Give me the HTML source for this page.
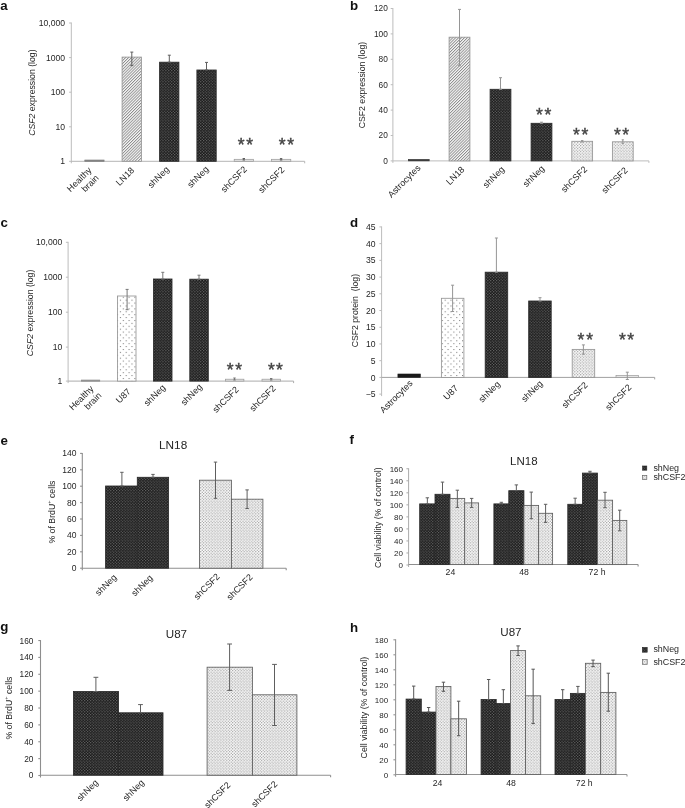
<!DOCTYPE html>
<html><head><meta charset="utf-8"><style>
html,body{margin:0;padding:0;background:#fff;}
body{width:685px;height:808px;overflow:hidden;}
svg{display:block;filter:blur(0.4px);font-family:"Liberation Sans",sans-serif;}
</style></head><body>
<svg width="685" height="808" viewBox="0 0 685 808">
<defs>
<pattern id="hatch" patternUnits="userSpaceOnUse" width="2.05" height="2.05" patternTransform="rotate(45)">
<rect width="2.05" height="2.05" fill="#f8f8f8"/><rect x="0" width="0.88" height="2.05" fill="#8a8a8a"/></pattern>
<pattern id="dark" patternUnits="userSpaceOnUse" width="2.9" height="2.8">
<rect width="2.9" height="2.8" fill="#141414"/><rect x="0.2" y="0.2" width="1.05" height="1.0" fill="#969696"/><rect x="1.65" y="1.6" width="1.05" height="1.0" fill="#848484"/></pattern>
<pattern id="light" patternUnits="userSpaceOnUse" width="2.9" height="2.9">
<rect width="2.9" height="2.9" fill="#ffffff"/><rect x="0.2" y="0.2" width="1.0" height="1.0" fill="#6c6c6c"/><rect x="1.65" y="1.65" width="1.0" height="1.0" fill="#7e7e7e"/></pattern>
<pattern id="light2" patternUnits="userSpaceOnUse" width="2.9" height="2.9">
<rect width="2.9" height="2.9" fill="#ffffff"/><rect x="0.2" y="0.2" width="1.0" height="1.0" fill="#6c6c6c"/><rect x="1.65" y="1.65" width="1.0" height="1.0" fill="#747474"/></pattern>
<pattern id="sparse" patternUnits="userSpaceOnUse" width="5.8" height="5.8">
<rect width="5.8" height="5.8" fill="#fff"/><rect x="1" y="1" width="1" height="1" fill="#707070"/><rect x="3.9" y="3.9" width="1" height="1" fill="#707070"/></pattern>
</defs>
<rect width="685" height="808" fill="#fff"/>

<text x="0.30" y="9.50" font-size="13.3" text-anchor="start" fill="#111" font-weight="bold">a</text>
<line x1="71.30" y1="22.50" x2="71.30" y2="163.30" stroke="#bcbcbc" stroke-width="1"/>
<line x1="69.10" y1="23.00" x2="71.30" y2="23.00" stroke="#bcbcbc" stroke-width="1"/>
<text x="65.00" y="26.10" font-size="8.6" text-anchor="end" fill="#262626">10,000</text>
<line x1="69.10" y1="57.60" x2="71.30" y2="57.60" stroke="#bcbcbc" stroke-width="1"/>
<text x="65.00" y="60.70" font-size="8.6" text-anchor="end" fill="#262626">1000</text>
<line x1="69.10" y1="92.20" x2="71.30" y2="92.20" stroke="#bcbcbc" stroke-width="1"/>
<text x="65.00" y="95.30" font-size="8.6" text-anchor="end" fill="#262626">100</text>
<line x1="69.10" y1="126.80" x2="71.30" y2="126.80" stroke="#bcbcbc" stroke-width="1"/>
<text x="65.00" y="129.90" font-size="8.6" text-anchor="end" fill="#262626">10</text>
<line x1="69.10" y1="161.30" x2="71.30" y2="161.30" stroke="#bcbcbc" stroke-width="1"/>
<text x="65.00" y="164.40" font-size="8.6" text-anchor="end" fill="#262626">1</text>
<line x1="71.30" y1="161.30" x2="304.70" y2="161.30" stroke="#b4b4b4" stroke-width="1"/>
<line x1="304.70" y1="161.30" x2="304.70" y2="163.30" stroke="#b4b4b4" stroke-width="1"/>
<text x="0" y="0" font-size="8.7" fill="#262626" text-anchor="middle" transform="translate(35.20 92.65) rotate(-90)"><tspan font-style="italic">CSF2</tspan> expression (log)</text>
<rect x="84.80" y="160.00" width="19.30" height="1.30" fill="#888" stroke="#777" stroke-width="0.6"/>
<rect x="122.10" y="57.10" width="19.30" height="104.20" fill="url(#hatch)" stroke="#959595" stroke-width="0.85"/>
<rect x="159.60" y="62.20" width="19.30" height="99.10" fill="url(#dark)" stroke="#2a2a2a" stroke-width="0.85"/>
<rect x="196.90" y="70.00" width="19.30" height="91.30" fill="url(#dark)" stroke="#2a2a2a" stroke-width="0.85"/>
<rect x="234.20" y="159.30" width="19.30" height="2.00" fill="#e0e0e0" stroke="#999" stroke-width="0.7"/>
<rect x="271.50" y="159.30" width="19.30" height="2.00" fill="#e0e0e0" stroke="#999" stroke-width="0.7"/>
<line x1="131.80" y1="52.10" x2="131.80" y2="65.60" stroke="#5e5e5e" stroke-width="1.0"/>
<line x1="130.30" y1="52.10" x2="133.30" y2="52.10" stroke="#5e5e5e" stroke-width="1.0"/>
<line x1="130.30" y1="65.60" x2="133.30" y2="65.60" stroke="#5e5e5e" stroke-width="1.0"/>
<line x1="169.30" y1="55.20" x2="169.30" y2="62.20" stroke="#5e5e5e" stroke-width="1.0"/>
<line x1="167.80" y1="55.20" x2="170.80" y2="55.20" stroke="#5e5e5e" stroke-width="1.0"/>
<line x1="167.80" y1="62.20" x2="170.80" y2="62.20" stroke="#5e5e5e" stroke-width="1.0"/>
<line x1="206.50" y1="62.40" x2="206.50" y2="70.00" stroke="#5e5e5e" stroke-width="1.0"/>
<line x1="205.00" y1="62.40" x2="208.00" y2="62.40" stroke="#5e5e5e" stroke-width="1.0"/>
<line x1="205.00" y1="70.00" x2="208.00" y2="70.00" stroke="#5e5e5e" stroke-width="1.0"/>
<line x1="243.80" y1="158.50" x2="243.80" y2="160.00" stroke="#5e5e5e" stroke-width="1.0"/>
<line x1="242.60" y1="158.50" x2="245.00" y2="158.50" stroke="#5e5e5e" stroke-width="1.0"/>
<line x1="242.60" y1="160.00" x2="245.00" y2="160.00" stroke="#5e5e5e" stroke-width="1.0"/>
<line x1="281.10" y1="158.60" x2="281.10" y2="160.00" stroke="#5e5e5e" stroke-width="1.0"/>
<line x1="279.90" y1="158.60" x2="282.30" y2="158.60" stroke="#5e5e5e" stroke-width="1.0"/>
<line x1="279.90" y1="160.00" x2="282.30" y2="160.00" stroke="#5e5e5e" stroke-width="1.0"/>
<text x="241.20" y="150.72" font-size="17.5" text-anchor="middle" fill="#444" stroke="#444" stroke-width="0.45">*</text>
<text x="249.60" y="150.72" font-size="17.5" text-anchor="middle" fill="#444" stroke="#444" stroke-width="0.45">*</text>
<text x="282.20" y="150.72" font-size="17.5" text-anchor="middle" fill="#444" stroke="#444" stroke-width="0.45">*</text>
<text x="290.60" y="150.72" font-size="17.5" text-anchor="middle" fill="#444" stroke="#444" stroke-width="0.45">*</text>
<text x="92.20" y="170.80" font-size="9.0" text-anchor="end" fill="#262626" transform="rotate(-45 92.20 170.80)">Healthy</text>
<text x="99.40" y="178.40" font-size="9.0" text-anchor="end" fill="#262626" transform="rotate(-45 99.40 178.40)">brain</text>
<text x="134.80" y="171.00" font-size="9.0" text-anchor="end" fill="#262626" transform="rotate(-45 134.80 171.00)">LN18</text>
<text x="169.80" y="170.00" font-size="9.0" text-anchor="end" fill="#262626" transform="rotate(-45 169.80 170.00)">shNeg</text>
<text x="209.30" y="169.80" font-size="9.0" text-anchor="end" fill="#262626" transform="rotate(-45 209.30 169.80)">shNeg</text>
<text x="247.50" y="169.90" font-size="9.0" text-anchor="end" fill="#262626" transform="rotate(-45 247.50 169.90)">shCSF2</text>
<text x="285.00" y="170.50" font-size="9.0" text-anchor="end" fill="#262626" transform="rotate(-45 285.00 170.50)">shCSF2</text>
<text x="349.90" y="10.40" font-size="13.3" text-anchor="start" fill="#111" font-weight="bold">b</text>
<line x1="392.90" y1="8.00" x2="392.90" y2="162.90" stroke="#bcbcbc" stroke-width="1"/>
<line x1="390.70" y1="160.90" x2="392.90" y2="160.90" stroke="#bcbcbc" stroke-width="1"/>
<text x="387.80" y="163.89" font-size="8.3" text-anchor="end" fill="#262626">0</text>
<line x1="390.70" y1="135.50" x2="392.90" y2="135.50" stroke="#bcbcbc" stroke-width="1"/>
<text x="387.80" y="138.49" font-size="8.3" text-anchor="end" fill="#262626">20</text>
<line x1="390.70" y1="110.10" x2="392.90" y2="110.10" stroke="#bcbcbc" stroke-width="1"/>
<text x="387.80" y="113.09" font-size="8.3" text-anchor="end" fill="#262626">40</text>
<line x1="390.70" y1="84.70" x2="392.90" y2="84.70" stroke="#bcbcbc" stroke-width="1"/>
<text x="387.80" y="87.69" font-size="8.3" text-anchor="end" fill="#262626">60</text>
<line x1="390.70" y1="59.30" x2="392.90" y2="59.30" stroke="#bcbcbc" stroke-width="1"/>
<text x="387.80" y="62.29" font-size="8.3" text-anchor="end" fill="#262626">80</text>
<line x1="390.70" y1="33.90" x2="392.90" y2="33.90" stroke="#bcbcbc" stroke-width="1"/>
<text x="387.80" y="36.89" font-size="8.3" text-anchor="end" fill="#262626">100</text>
<line x1="390.70" y1="8.50" x2="392.90" y2="8.50" stroke="#bcbcbc" stroke-width="1"/>
<text x="387.80" y="11.49" font-size="8.3" text-anchor="end" fill="#262626">120</text>
<line x1="392.90" y1="160.90" x2="648.90" y2="160.90" stroke="#bcbcbc" stroke-width="1"/>
<line x1="648.90" y1="160.90" x2="648.90" y2="162.90" stroke="#bcbcbc" stroke-width="1"/>
<text x="0" y="0" font-size="8.7" fill="#262626" text-anchor="middle" transform="translate(364.60 85.10) rotate(-90)">CSF2 expression (log)</text>
<rect x="408.40" y="159.40" width="20.80" height="1.50" fill="#333" stroke="#333" stroke-width="0.6"/>
<rect x="449.10" y="37.20" width="20.80" height="123.70" fill="url(#hatch)" stroke="#959595" stroke-width="0.85"/>
<rect x="490.10" y="89.30" width="20.80" height="71.60" fill="url(#dark)" stroke="#2a2a2a" stroke-width="0.85"/>
<rect x="531.10" y="123.30" width="20.80" height="37.60" fill="url(#dark)" stroke="#2a2a2a" stroke-width="0.85"/>
<rect x="571.80" y="141.30" width="20.80" height="19.60" fill="url(#light)" stroke="#959595" stroke-width="0.85"/>
<rect x="612.40" y="141.80" width="20.80" height="19.10" fill="url(#light)" stroke="#959595" stroke-width="0.85"/>
<line x1="459.50" y1="9.40" x2="459.50" y2="65.70" stroke="#959595" stroke-width="1.0"/>
<line x1="458.00" y1="9.40" x2="461.00" y2="9.40" stroke="#959595" stroke-width="1.0"/>
<line x1="458.00" y1="65.70" x2="461.00" y2="65.70" stroke="#959595" stroke-width="1.0"/>
<line x1="500.50" y1="77.70" x2="500.50" y2="89.30" stroke="#959595" stroke-width="1.0"/>
<line x1="499.00" y1="77.70" x2="502.00" y2="77.70" stroke="#959595" stroke-width="1.0"/>
<line x1="499.00" y1="89.30" x2="502.00" y2="89.30" stroke="#959595" stroke-width="1.0"/>
<line x1="541.50" y1="122.20" x2="541.50" y2="123.30" stroke="#959595" stroke-width="1.0"/>
<line x1="540.00" y1="122.20" x2="543.00" y2="122.20" stroke="#959595" stroke-width="1.0"/>
<line x1="540.00" y1="123.30" x2="543.00" y2="123.30" stroke="#959595" stroke-width="1.0"/>
<line x1="582.20" y1="140.60" x2="582.20" y2="142.00" stroke="#959595" stroke-width="1.0"/>
<line x1="581.00" y1="140.60" x2="583.40" y2="140.60" stroke="#959595" stroke-width="1.0"/>
<line x1="581.00" y1="142.00" x2="583.40" y2="142.00" stroke="#959595" stroke-width="1.0"/>
<line x1="622.80" y1="139.80" x2="622.80" y2="143.60" stroke="#959595" stroke-width="1.0"/>
<line x1="621.70" y1="139.80" x2="623.90" y2="139.80" stroke="#959595" stroke-width="1.0"/>
<line x1="621.70" y1="143.60" x2="623.90" y2="143.60" stroke="#959595" stroke-width="1.0"/>
<text x="539.35" y="120.78" font-size="17.5" text-anchor="middle" fill="#444" stroke="#444" stroke-width="0.45">*</text>
<text x="547.85" y="120.78" font-size="17.5" text-anchor="middle" fill="#444" stroke="#444" stroke-width="0.45">*</text>
<text x="576.40" y="140.78" font-size="17.5" text-anchor="middle" fill="#444" stroke="#444" stroke-width="0.45">*</text>
<text x="584.80" y="140.78" font-size="17.5" text-anchor="middle" fill="#444" stroke="#444" stroke-width="0.45">*</text>
<text x="617.40" y="140.78" font-size="17.5" text-anchor="middle" fill="#444" stroke="#444" stroke-width="0.45">*</text>
<text x="625.60" y="140.78" font-size="17.5" text-anchor="middle" fill="#444" stroke="#444" stroke-width="0.45">*</text>
<text x="421.10" y="168.60" font-size="9.0" text-anchor="end" fill="#262626" transform="rotate(-45 421.10 168.60)">Astrocytes</text>
<text x="465.00" y="170.20" font-size="9.0" text-anchor="end" fill="#262626" transform="rotate(-45 465.00 170.20)">LN18</text>
<text x="505.00" y="170.00" font-size="9.0" text-anchor="end" fill="#262626" transform="rotate(-45 505.00 170.00)">shNeg</text>
<text x="545.00" y="169.10" font-size="9.0" text-anchor="end" fill="#262626" transform="rotate(-45 545.00 169.10)">shNeg</text>
<text x="587.70" y="169.90" font-size="9.0" text-anchor="end" fill="#262626" transform="rotate(-45 587.70 169.90)">shCSF2</text>
<text x="628.20" y="171.00" font-size="9.0" text-anchor="end" fill="#262626" transform="rotate(-45 628.20 171.00)">shCSF2</text>
<text x="0.50" y="226.70" font-size="13.3" text-anchor="start" fill="#111" font-weight="bold">c</text>
<line x1="68.10" y1="241.80" x2="68.10" y2="383.10" stroke="#bcbcbc" stroke-width="1"/>
<line x1="65.90" y1="242.30" x2="68.10" y2="242.30" stroke="#bcbcbc" stroke-width="1"/>
<text x="62.30" y="245.40" font-size="8.6" text-anchor="end" fill="#262626">10,000</text>
<line x1="65.90" y1="277.20" x2="68.10" y2="277.20" stroke="#bcbcbc" stroke-width="1"/>
<text x="62.30" y="280.30" font-size="8.6" text-anchor="end" fill="#262626">1000</text>
<line x1="65.90" y1="312.20" x2="68.10" y2="312.20" stroke="#bcbcbc" stroke-width="1"/>
<text x="62.30" y="315.30" font-size="8.6" text-anchor="end" fill="#262626">100</text>
<line x1="65.90" y1="347.10" x2="68.10" y2="347.10" stroke="#bcbcbc" stroke-width="1"/>
<text x="62.30" y="350.20" font-size="8.6" text-anchor="end" fill="#262626">10</text>
<line x1="65.90" y1="381.10" x2="68.10" y2="381.10" stroke="#bcbcbc" stroke-width="1"/>
<text x="62.30" y="384.20" font-size="8.6" text-anchor="end" fill="#262626">1</text>
<line x1="68.10" y1="381.10" x2="293.60" y2="381.10" stroke="#acacac" stroke-width="1"/>
<line x1="293.60" y1="381.10" x2="293.60" y2="383.10" stroke="#acacac" stroke-width="1"/>
<text x="0" y="0" font-size="8.7" fill="#262626" text-anchor="middle" transform="translate(32.50 312.95) rotate(-90)"><tspan font-style="italic">CSF2</tspan> expression (log)</text>
<rect x="81.30" y="380.00" width="18.50" height="1.20" fill="#999" stroke="#888" stroke-width="0.6"/>
<rect x="117.50" y="296.00" width="18.50" height="85.10" fill="url(#sparse)" stroke="#959595" stroke-width="0.85"/>
<rect x="153.50" y="279.00" width="18.50" height="102.10" fill="url(#dark)" stroke="#2a2a2a" stroke-width="0.85"/>
<rect x="189.80" y="279.20" width="18.50" height="101.90" fill="url(#dark)" stroke="#2a2a2a" stroke-width="0.85"/>
<rect x="225.40" y="379.20" width="18.50" height="1.90" fill="#e4e4e4" stroke="#999" stroke-width="0.7"/>
<rect x="262.00" y="379.20" width="18.50" height="1.90" fill="#e4e4e4" stroke="#999" stroke-width="0.7"/>
<line x1="127.10" y1="289.40" x2="127.10" y2="309.70" stroke="#777777" stroke-width="1.0"/>
<line x1="125.60" y1="289.40" x2="128.60" y2="289.40" stroke="#777777" stroke-width="1.0"/>
<line x1="125.60" y1="309.70" x2="128.60" y2="309.70" stroke="#777777" stroke-width="1.0"/>
<line x1="162.80" y1="272.30" x2="162.80" y2="279.00" stroke="#777777" stroke-width="1.0"/>
<line x1="161.30" y1="272.30" x2="164.30" y2="272.30" stroke="#777777" stroke-width="1.0"/>
<line x1="161.30" y1="279.00" x2="164.30" y2="279.00" stroke="#777777" stroke-width="1.0"/>
<line x1="199.00" y1="275.20" x2="199.00" y2="279.20" stroke="#777777" stroke-width="1.0"/>
<line x1="197.50" y1="275.20" x2="200.50" y2="275.20" stroke="#777777" stroke-width="1.0"/>
<line x1="197.50" y1="279.20" x2="200.50" y2="279.20" stroke="#777777" stroke-width="1.0"/>
<line x1="234.50" y1="378.00" x2="234.50" y2="380.00" stroke="#777777" stroke-width="1.0"/>
<line x1="233.30" y1="378.00" x2="235.70" y2="378.00" stroke="#777777" stroke-width="1.0"/>
<line x1="233.30" y1="380.00" x2="235.70" y2="380.00" stroke="#777777" stroke-width="1.0"/>
<line x1="271.20" y1="378.50" x2="271.20" y2="380.00" stroke="#777777" stroke-width="1.0"/>
<line x1="270.00" y1="378.50" x2="272.40" y2="378.50" stroke="#777777" stroke-width="1.0"/>
<line x1="270.00" y1="380.00" x2="272.40" y2="380.00" stroke="#777777" stroke-width="1.0"/>
<text x="230.20" y="376.07" font-size="17.5" text-anchor="middle" fill="#444" stroke="#444" stroke-width="0.45">*</text>
<text x="238.60" y="376.07" font-size="17.5" text-anchor="middle" fill="#444" stroke="#444" stroke-width="0.45">*</text>
<text x="271.30" y="376.07" font-size="17.5" text-anchor="middle" fill="#444" stroke="#444" stroke-width="0.45">*</text>
<text x="279.50" y="376.07" font-size="17.5" text-anchor="middle" fill="#444" stroke="#444" stroke-width="0.45">*</text>
<text x="94.30" y="389.20" font-size="9.0" text-anchor="end" fill="#262626" transform="rotate(-45 94.30 389.20)">Healthy</text>
<text x="102.10" y="396.00" font-size="9.0" text-anchor="end" fill="#262626" transform="rotate(-45 102.10 396.00)">brain</text>
<text x="131.30" y="392.20" font-size="9.0" text-anchor="end" fill="#262626" transform="rotate(-45 131.30 392.20)">U87</text>
<text x="166.00" y="388.20" font-size="9.0" text-anchor="end" fill="#262626" transform="rotate(-45 166.00 388.20)">shNeg</text>
<text x="202.80" y="387.50" font-size="9.0" text-anchor="end" fill="#262626" transform="rotate(-45 202.80 387.50)">shNeg</text>
<text x="239.20" y="390.20" font-size="9.0" text-anchor="end" fill="#262626" transform="rotate(-45 239.20 390.20)">shCSF2</text>
<text x="276.20" y="389.00" font-size="9.0" text-anchor="end" fill="#262626" transform="rotate(-45 276.20 389.00)">shCSF2</text>
<text x="349.90" y="226.50" font-size="13.3" text-anchor="start" fill="#111" font-weight="bold">d</text>
<line x1="381.60" y1="226.42" x2="381.60" y2="396.12" stroke="#bcbcbc" stroke-width="1"/>
<line x1="379.40" y1="394.12" x2="381.60" y2="394.12" stroke="#bcbcbc" stroke-width="1"/>
<text x="375.60" y="397.22" font-size="8.6" text-anchor="end" fill="#262626">−5</text>
<line x1="379.40" y1="377.40" x2="381.60" y2="377.40" stroke="#bcbcbc" stroke-width="1"/>
<text x="375.60" y="380.50" font-size="8.6" text-anchor="end" fill="#262626">0</text>
<line x1="379.40" y1="360.68" x2="381.60" y2="360.68" stroke="#bcbcbc" stroke-width="1"/>
<text x="375.60" y="363.78" font-size="8.6" text-anchor="end" fill="#262626">5</text>
<line x1="379.40" y1="343.96" x2="381.60" y2="343.96" stroke="#bcbcbc" stroke-width="1"/>
<text x="375.60" y="347.06" font-size="8.6" text-anchor="end" fill="#262626">10</text>
<line x1="379.40" y1="327.24" x2="381.60" y2="327.24" stroke="#bcbcbc" stroke-width="1"/>
<text x="375.60" y="330.34" font-size="8.6" text-anchor="end" fill="#262626">15</text>
<line x1="379.40" y1="310.52" x2="381.60" y2="310.52" stroke="#bcbcbc" stroke-width="1"/>
<text x="375.60" y="313.62" font-size="8.6" text-anchor="end" fill="#262626">20</text>
<line x1="379.40" y1="293.80" x2="381.60" y2="293.80" stroke="#bcbcbc" stroke-width="1"/>
<text x="375.60" y="296.90" font-size="8.6" text-anchor="end" fill="#262626">25</text>
<line x1="379.40" y1="277.08" x2="381.60" y2="277.08" stroke="#bcbcbc" stroke-width="1"/>
<text x="375.60" y="280.18" font-size="8.6" text-anchor="end" fill="#262626">30</text>
<line x1="379.40" y1="260.36" x2="381.60" y2="260.36" stroke="#bcbcbc" stroke-width="1"/>
<text x="375.60" y="263.46" font-size="8.6" text-anchor="end" fill="#262626">35</text>
<line x1="379.40" y1="243.64" x2="381.60" y2="243.64" stroke="#bcbcbc" stroke-width="1"/>
<text x="375.60" y="246.74" font-size="8.6" text-anchor="end" fill="#262626">40</text>
<line x1="379.40" y1="226.92" x2="381.60" y2="226.92" stroke="#bcbcbc" stroke-width="1"/>
<text x="375.60" y="230.02" font-size="8.6" text-anchor="end" fill="#262626">45</text>
<line x1="381.60" y1="377.40" x2="654.70" y2="377.40" stroke="#a0a0a0" stroke-width="1"/>
<line x1="654.70" y1="377.40" x2="654.70" y2="379.40" stroke="#a0a0a0" stroke-width="1"/>
<text x="0" y="0" font-size="8.7" fill="#262626" text-anchor="middle" transform="translate(358.30 310.65) rotate(-90)">CSF2 protein  (log)</text>
<rect x="397.90" y="374.00" width="22.50" height="3.40" fill="#1a1a1a" stroke="#1a1a1a" stroke-width="0.6"/>
<rect x="441.40" y="298.30" width="22.50" height="79.10" fill="url(#sparse)" stroke="#959595" stroke-width="0.85"/>
<rect x="485.20" y="272.20" width="22.50" height="105.20" fill="url(#dark)" stroke="#2a2a2a" stroke-width="0.85"/>
<rect x="528.70" y="301.00" width="22.50" height="76.40" fill="url(#dark)" stroke="#2a2a2a" stroke-width="0.85"/>
<rect x="572.20" y="349.40" width="22.50" height="28.00" fill="url(#light)" stroke="#959595" stroke-width="0.85"/>
<rect x="616.00" y="375.60" width="22.50" height="1.80" fill="#e4e4e4" stroke="#999" stroke-width="0.7"/>
<line x1="452.60" y1="285.20" x2="452.60" y2="311.50" stroke="#959595" stroke-width="1.0"/>
<line x1="451.10" y1="285.20" x2="454.10" y2="285.20" stroke="#959595" stroke-width="1.0"/>
<line x1="451.10" y1="311.50" x2="454.10" y2="311.50" stroke="#959595" stroke-width="1.0"/>
<line x1="496.40" y1="238.00" x2="496.40" y2="272.20" stroke="#959595" stroke-width="1.0"/>
<line x1="494.90" y1="238.00" x2="497.90" y2="238.00" stroke="#959595" stroke-width="1.0"/>
<line x1="494.90" y1="272.20" x2="497.90" y2="272.20" stroke="#959595" stroke-width="1.0"/>
<line x1="540.00" y1="297.70" x2="540.00" y2="301.00" stroke="#959595" stroke-width="1.0"/>
<line x1="538.50" y1="297.70" x2="541.50" y2="297.70" stroke="#959595" stroke-width="1.0"/>
<line x1="538.50" y1="301.00" x2="541.50" y2="301.00" stroke="#959595" stroke-width="1.0"/>
<line x1="583.40" y1="344.90" x2="583.40" y2="354.20" stroke="#959595" stroke-width="1.0"/>
<line x1="581.90" y1="344.90" x2="584.90" y2="344.90" stroke="#959595" stroke-width="1.0"/>
<line x1="581.90" y1="354.20" x2="584.90" y2="354.20" stroke="#959595" stroke-width="1.0"/>
<line x1="627.30" y1="372.20" x2="627.30" y2="379.50" stroke="#959595" stroke-width="1.0"/>
<line x1="625.80" y1="372.20" x2="628.80" y2="372.20" stroke="#959595" stroke-width="1.0"/>
<line x1="625.80" y1="379.50" x2="628.80" y2="379.50" stroke="#959595" stroke-width="1.0"/>
<text x="580.95" y="346.42" font-size="17.5" text-anchor="middle" fill="#444" stroke="#444" stroke-width="0.45">*</text>
<text x="589.60" y="346.42" font-size="17.5" text-anchor="middle" fill="#444" stroke="#444" stroke-width="0.45">*</text>
<text x="622.30" y="346.42" font-size="17.5" text-anchor="middle" fill="#444" stroke="#444" stroke-width="0.45">*</text>
<text x="630.60" y="346.42" font-size="17.5" text-anchor="middle" fill="#444" stroke="#444" stroke-width="0.45">*</text>
<text x="413.20" y="383.90" font-size="9.0" text-anchor="end" fill="#262626" transform="rotate(-45 413.20 383.90)">Astrocytes</text>
<text x="458.80" y="388.80" font-size="9.0" text-anchor="end" fill="#262626" transform="rotate(-45 458.80 388.80)">U87</text>
<text x="500.70" y="384.70" font-size="9.0" text-anchor="end" fill="#262626" transform="rotate(-45 500.70 384.70)">shNeg</text>
<text x="543.30" y="384.10" font-size="9.0" text-anchor="end" fill="#262626" transform="rotate(-45 543.30 384.10)">shNeg</text>
<text x="588.40" y="385.70" font-size="9.0" text-anchor="end" fill="#262626" transform="rotate(-45 588.40 385.70)">shCSF2</text>
<text x="632.00" y="388.00" font-size="9.0" text-anchor="end" fill="#262626" transform="rotate(-45 632.00 388.00)">shCSF2</text>
<text x="0.50" y="444.50" font-size="13.3" text-anchor="start" fill="#111" font-weight="bold">e</text>
<line x1="82.30" y1="452.90" x2="82.30" y2="570.20" stroke="#8e8e8e" stroke-width="1.1"/>
<line x1="80.10" y1="568.20" x2="82.30" y2="568.20" stroke="#8e8e8e" stroke-width="1.1"/>
<text x="76.50" y="571.26" font-size="8.5" text-anchor="end" fill="#262626">0</text>
<line x1="80.10" y1="551.80" x2="82.30" y2="551.80" stroke="#8e8e8e" stroke-width="1.1"/>
<text x="76.50" y="554.86" font-size="8.5" text-anchor="end" fill="#262626">20</text>
<line x1="80.10" y1="535.40" x2="82.30" y2="535.40" stroke="#8e8e8e" stroke-width="1.1"/>
<text x="76.50" y="538.46" font-size="8.5" text-anchor="end" fill="#262626">40</text>
<line x1="80.10" y1="519.00" x2="82.30" y2="519.00" stroke="#8e8e8e" stroke-width="1.1"/>
<text x="76.50" y="522.06" font-size="8.5" text-anchor="end" fill="#262626">60</text>
<line x1="80.10" y1="502.60" x2="82.30" y2="502.60" stroke="#8e8e8e" stroke-width="1.1"/>
<text x="76.50" y="505.66" font-size="8.5" text-anchor="end" fill="#262626">80</text>
<line x1="80.10" y1="486.20" x2="82.30" y2="486.20" stroke="#8e8e8e" stroke-width="1.1"/>
<text x="76.50" y="489.26" font-size="8.5" text-anchor="end" fill="#262626">100</text>
<line x1="80.10" y1="469.80" x2="82.30" y2="469.80" stroke="#8e8e8e" stroke-width="1.1"/>
<text x="76.50" y="472.86" font-size="8.5" text-anchor="end" fill="#262626">120</text>
<line x1="80.10" y1="453.40" x2="82.30" y2="453.40" stroke="#8e8e8e" stroke-width="1.1"/>
<text x="76.50" y="456.46" font-size="8.5" text-anchor="end" fill="#262626">140</text>
<line x1="82.30" y1="568.30" x2="286.20" y2="568.30" stroke="#8e8e8e" stroke-width="1.1"/>
<line x1="286.20" y1="568.30" x2="286.20" y2="570.30" stroke="#8e8e8e" stroke-width="1.1"/>
<text x="0" y="0" font-size="8.75" fill="#262626" text-anchor="middle" transform="translate(54.80 512.05) rotate(-90)">% of BrdU<tspan font-size="5.6" dy="-3.4">+</tspan><tspan dy="3.4"> cells</tspan></text>
<text x="173.10" y="449.10" font-size="11.8" text-anchor="middle" fill="#262626">LN18</text>
<rect x="105.60" y="486.00" width="31.70" height="82.20" fill="url(#dark)" stroke="#2a2a2a" stroke-width="0.85"/>
<rect x="137.30" y="477.30" width="31.30" height="90.90" fill="url(#dark)" stroke="#2a2a2a" stroke-width="0.85"/>
<rect x="199.50" y="480.20" width="31.90" height="88.00" fill="url(#light2)" stroke="#5e5e5e" stroke-width="0.85"/>
<rect x="231.40" y="499.20" width="31.50" height="69.00" fill="url(#light2)" stroke="#5e5e5e" stroke-width="0.85"/>
<line x1="121.90" y1="472.30" x2="121.90" y2="486.00" stroke="#5e5e5e" stroke-width="1.0"/>
<line x1="120.20" y1="472.30" x2="123.60" y2="472.30" stroke="#5e5e5e" stroke-width="1.0"/>
<line x1="120.20" y1="486.00" x2="123.60" y2="486.00" stroke="#5e5e5e" stroke-width="1.0"/>
<line x1="153.00" y1="474.40" x2="153.00" y2="477.30" stroke="#5e5e5e" stroke-width="1.0"/>
<line x1="151.30" y1="474.40" x2="154.70" y2="474.40" stroke="#5e5e5e" stroke-width="1.0"/>
<line x1="151.30" y1="477.30" x2="154.70" y2="477.30" stroke="#5e5e5e" stroke-width="1.0"/>
<line x1="215.50" y1="462.10" x2="215.50" y2="498.30" stroke="#5e5e5e" stroke-width="1.0"/>
<line x1="213.80" y1="462.10" x2="217.20" y2="462.10" stroke="#5e5e5e" stroke-width="1.0"/>
<line x1="213.80" y1="498.30" x2="217.20" y2="498.30" stroke="#5e5e5e" stroke-width="1.0"/>
<line x1="247.10" y1="489.90" x2="247.10" y2="508.50" stroke="#5e5e5e" stroke-width="1.0"/>
<line x1="245.40" y1="489.90" x2="248.80" y2="489.90" stroke="#5e5e5e" stroke-width="1.0"/>
<line x1="245.40" y1="508.50" x2="248.80" y2="508.50" stroke="#5e5e5e" stroke-width="1.0"/>
<text x="117.20" y="577.90" font-size="9.0" text-anchor="end" fill="#262626" transform="rotate(-45 117.20 577.90)">shNeg</text>
<text x="153.40" y="578.40" font-size="9.0" text-anchor="end" fill="#262626" transform="rotate(-45 153.40 578.40)">shNeg</text>
<text x="220.40" y="577.20" font-size="9.0" text-anchor="end" fill="#262626" transform="rotate(-45 220.40 577.20)">shCSF2</text>
<text x="253.20" y="577.80" font-size="9.0" text-anchor="end" fill="#262626" transform="rotate(-45 253.20 577.80)">shCSF2</text>
<text x="349.60" y="444.20" font-size="13.3" text-anchor="start" fill="#111" font-weight="bold">f</text>
<line x1="408.60" y1="468.26" x2="408.60" y2="567.00" stroke="#aaaaaa" stroke-width="1"/>
<line x1="406.40" y1="565.00" x2="408.60" y2="565.00" stroke="#aaaaaa" stroke-width="1"/>
<text x="403.00" y="567.88" font-size="8.0" text-anchor="end" fill="#262626">0</text>
<line x1="406.40" y1="552.97" x2="408.60" y2="552.97" stroke="#aaaaaa" stroke-width="1"/>
<text x="403.00" y="555.85" font-size="8.0" text-anchor="end" fill="#262626">20</text>
<line x1="406.40" y1="540.94" x2="408.60" y2="540.94" stroke="#aaaaaa" stroke-width="1"/>
<text x="403.00" y="543.82" font-size="8.0" text-anchor="end" fill="#262626">40</text>
<line x1="406.40" y1="528.91" x2="408.60" y2="528.91" stroke="#aaaaaa" stroke-width="1"/>
<text x="403.00" y="531.79" font-size="8.0" text-anchor="end" fill="#262626">60</text>
<line x1="406.40" y1="516.88" x2="408.60" y2="516.88" stroke="#aaaaaa" stroke-width="1"/>
<text x="403.00" y="519.76" font-size="8.0" text-anchor="end" fill="#262626">80</text>
<line x1="406.40" y1="504.85" x2="408.60" y2="504.85" stroke="#aaaaaa" stroke-width="1"/>
<text x="403.00" y="507.73" font-size="8.0" text-anchor="end" fill="#262626">100</text>
<line x1="406.40" y1="492.82" x2="408.60" y2="492.82" stroke="#aaaaaa" stroke-width="1"/>
<text x="403.00" y="495.70" font-size="8.0" text-anchor="end" fill="#262626">120</text>
<line x1="406.40" y1="480.79" x2="408.60" y2="480.79" stroke="#aaaaaa" stroke-width="1"/>
<text x="403.00" y="483.67" font-size="8.0" text-anchor="end" fill="#262626">140</text>
<line x1="406.40" y1="468.76" x2="408.60" y2="468.76" stroke="#aaaaaa" stroke-width="1"/>
<text x="403.00" y="471.64" font-size="8.0" text-anchor="end" fill="#262626">160</text>
<line x1="408.60" y1="564.50" x2="638.10" y2="564.50" stroke="#8e8e8e" stroke-width="1.1"/>
<line x1="638.10" y1="564.50" x2="638.10" y2="566.50" stroke="#8e8e8e" stroke-width="1.1"/>
<text x="0" y="0" font-size="8.75" fill="#262626" text-anchor="middle" transform="translate(380.50 517.60) rotate(-90)">Cell viability (% of control)</text>
<text x="523.85" y="464.50" font-size="11.5" text-anchor="middle" fill="#262626">LN18</text>
<rect x="419.70" y="503.90" width="15.30" height="60.70" fill="url(#dark)" stroke="#2a2a2a" stroke-width="0.85"/>
<rect x="435.00" y="494.30" width="15.00" height="70.30" fill="url(#dark)" stroke="#2a2a2a" stroke-width="0.85"/>
<rect x="450.00" y="498.40" width="14.70" height="66.20" fill="url(#light)" stroke="#5e5e5e" stroke-width="0.85"/>
<rect x="464.70" y="502.90" width="13.90" height="61.70" fill="url(#light)" stroke="#5e5e5e" stroke-width="0.85"/>
<line x1="427.35" y1="497.80" x2="427.35" y2="503.90" stroke="#5e5e5e" stroke-width="1.0"/>
<line x1="425.65" y1="497.80" x2="429.05" y2="497.80" stroke="#5e5e5e" stroke-width="1.0"/>
<line x1="425.65" y1="503.90" x2="429.05" y2="503.90" stroke="#5e5e5e" stroke-width="1.0"/>
<line x1="442.50" y1="482.10" x2="442.50" y2="494.30" stroke="#5e5e5e" stroke-width="1.0"/>
<line x1="440.80" y1="482.10" x2="444.20" y2="482.10" stroke="#5e5e5e" stroke-width="1.0"/>
<line x1="440.80" y1="494.30" x2="444.20" y2="494.30" stroke="#5e5e5e" stroke-width="1.0"/>
<line x1="457.35" y1="490.20" x2="457.35" y2="507.40" stroke="#5e5e5e" stroke-width="1.0"/>
<line x1="455.65" y1="490.20" x2="459.05" y2="490.20" stroke="#5e5e5e" stroke-width="1.0"/>
<line x1="455.65" y1="507.40" x2="459.05" y2="507.40" stroke="#5e5e5e" stroke-width="1.0"/>
<line x1="471.65" y1="498.40" x2="471.65" y2="507.40" stroke="#5e5e5e" stroke-width="1.0"/>
<line x1="469.95" y1="498.40" x2="473.35" y2="498.40" stroke="#5e5e5e" stroke-width="1.0"/>
<line x1="469.95" y1="507.40" x2="473.35" y2="507.40" stroke="#5e5e5e" stroke-width="1.0"/>
<rect x="493.90" y="503.90" width="14.90" height="60.70" fill="url(#dark)" stroke="#2a2a2a" stroke-width="0.85"/>
<rect x="508.80" y="490.70" width="15.10" height="73.90" fill="url(#dark)" stroke="#2a2a2a" stroke-width="0.85"/>
<rect x="523.90" y="505.40" width="14.70" height="59.20" fill="url(#light)" stroke="#5e5e5e" stroke-width="0.85"/>
<rect x="538.60" y="513.30" width="14.00" height="51.30" fill="url(#light)" stroke="#5e5e5e" stroke-width="0.85"/>
<line x1="501.35" y1="502.30" x2="501.35" y2="503.90" stroke="#5e5e5e" stroke-width="1.0"/>
<line x1="499.65" y1="502.30" x2="503.05" y2="502.30" stroke="#5e5e5e" stroke-width="1.0"/>
<line x1="499.65" y1="503.90" x2="503.05" y2="503.90" stroke="#5e5e5e" stroke-width="1.0"/>
<line x1="516.35" y1="484.90" x2="516.35" y2="490.70" stroke="#5e5e5e" stroke-width="1.0"/>
<line x1="514.65" y1="484.90" x2="518.05" y2="484.90" stroke="#5e5e5e" stroke-width="1.0"/>
<line x1="514.65" y1="490.70" x2="518.05" y2="490.70" stroke="#5e5e5e" stroke-width="1.0"/>
<line x1="531.25" y1="492.10" x2="531.25" y2="518.70" stroke="#5e5e5e" stroke-width="1.0"/>
<line x1="529.55" y1="492.10" x2="532.95" y2="492.10" stroke="#5e5e5e" stroke-width="1.0"/>
<line x1="529.55" y1="518.70" x2="532.95" y2="518.70" stroke="#5e5e5e" stroke-width="1.0"/>
<line x1="545.60" y1="504.30" x2="545.60" y2="522.40" stroke="#5e5e5e" stroke-width="1.0"/>
<line x1="543.90" y1="504.30" x2="547.30" y2="504.30" stroke="#5e5e5e" stroke-width="1.0"/>
<line x1="543.90" y1="522.40" x2="547.30" y2="522.40" stroke="#5e5e5e" stroke-width="1.0"/>
<rect x="567.80" y="504.30" width="14.70" height="60.30" fill="url(#dark)" stroke="#2a2a2a" stroke-width="0.85"/>
<rect x="582.50" y="473.10" width="14.90" height="91.50" fill="url(#dark)" stroke="#2a2a2a" stroke-width="0.85"/>
<rect x="597.40" y="500.20" width="15.20" height="64.40" fill="url(#light)" stroke="#5e5e5e" stroke-width="0.85"/>
<rect x="612.60" y="520.40" width="14.20" height="44.20" fill="url(#light)" stroke="#5e5e5e" stroke-width="0.85"/>
<line x1="575.15" y1="498.20" x2="575.15" y2="504.30" stroke="#5e5e5e" stroke-width="1.0"/>
<line x1="573.45" y1="498.20" x2="576.85" y2="498.20" stroke="#5e5e5e" stroke-width="1.0"/>
<line x1="573.45" y1="504.30" x2="576.85" y2="504.30" stroke="#5e5e5e" stroke-width="1.0"/>
<line x1="589.95" y1="471.30" x2="589.95" y2="473.10" stroke="#5e5e5e" stroke-width="1.0"/>
<line x1="588.25" y1="471.30" x2="591.65" y2="471.30" stroke="#5e5e5e" stroke-width="1.0"/>
<line x1="588.25" y1="473.10" x2="591.65" y2="473.10" stroke="#5e5e5e" stroke-width="1.0"/>
<line x1="605.00" y1="492.30" x2="605.00" y2="507.70" stroke="#5e5e5e" stroke-width="1.0"/>
<line x1="603.30" y1="492.30" x2="606.70" y2="492.30" stroke="#5e5e5e" stroke-width="1.0"/>
<line x1="603.30" y1="507.70" x2="606.70" y2="507.70" stroke="#5e5e5e" stroke-width="1.0"/>
<line x1="619.70" y1="510.20" x2="619.70" y2="530.80" stroke="#5e5e5e" stroke-width="1.0"/>
<line x1="618.00" y1="510.20" x2="621.40" y2="510.20" stroke="#5e5e5e" stroke-width="1.0"/>
<line x1="618.00" y1="530.80" x2="621.40" y2="530.80" stroke="#5e5e5e" stroke-width="1.0"/>
<text x="450.40" y="575.00" font-size="8.7" text-anchor="middle" fill="#262626">24</text>
<text x="524.10" y="575.00" font-size="8.7" text-anchor="middle" fill="#262626">48</text>
<text x="588.60" y="575.00" font-size="8.7" text-anchor="start" fill="#262626">72 h</text>
<rect x="642.60" y="466.00" width="4.20" height="4.20" fill="url(#dark)" stroke="#222" stroke-width="0.6"/>
<rect x="642.60" y="475.40" width="4.20" height="4.20" fill="url(#light)" stroke="#666" stroke-width="0.7"/>
<text x="653.40" y="470.60" font-size="8.9" text-anchor="start" fill="#262626">shNeg</text>
<text x="653.40" y="479.90" font-size="8.9" text-anchor="start" fill="#262626">shCSF2</text>
<text x="0.30" y="631.00" font-size="13.3" text-anchor="start" fill="#111" font-weight="bold">g</text>
<line x1="40.50" y1="640.04" x2="40.50" y2="777.50" stroke="#8e8e8e" stroke-width="1.1"/>
<line x1="38.30" y1="775.50" x2="40.50" y2="775.50" stroke="#8e8e8e" stroke-width="1.1"/>
<text x="33.40" y="778.49" font-size="8.3" text-anchor="end" fill="#262626">0</text>
<line x1="38.30" y1="758.63" x2="40.50" y2="758.63" stroke="#8e8e8e" stroke-width="1.1"/>
<text x="33.40" y="761.62" font-size="8.3" text-anchor="end" fill="#262626">20</text>
<line x1="38.30" y1="741.76" x2="40.50" y2="741.76" stroke="#8e8e8e" stroke-width="1.1"/>
<text x="33.40" y="744.75" font-size="8.3" text-anchor="end" fill="#262626">40</text>
<line x1="38.30" y1="724.89" x2="40.50" y2="724.89" stroke="#8e8e8e" stroke-width="1.1"/>
<text x="33.40" y="727.88" font-size="8.3" text-anchor="end" fill="#262626">60</text>
<line x1="38.30" y1="708.02" x2="40.50" y2="708.02" stroke="#8e8e8e" stroke-width="1.1"/>
<text x="33.40" y="711.01" font-size="8.3" text-anchor="end" fill="#262626">80</text>
<line x1="38.30" y1="691.15" x2="40.50" y2="691.15" stroke="#8e8e8e" stroke-width="1.1"/>
<text x="33.40" y="694.14" font-size="8.3" text-anchor="end" fill="#262626">100</text>
<line x1="38.30" y1="674.28" x2="40.50" y2="674.28" stroke="#8e8e8e" stroke-width="1.1"/>
<text x="33.40" y="677.27" font-size="8.3" text-anchor="end" fill="#262626">120</text>
<line x1="38.30" y1="657.41" x2="40.50" y2="657.41" stroke="#8e8e8e" stroke-width="1.1"/>
<text x="33.40" y="660.40" font-size="8.3" text-anchor="end" fill="#262626">140</text>
<line x1="38.30" y1="640.54" x2="40.50" y2="640.54" stroke="#8e8e8e" stroke-width="1.1"/>
<text x="33.40" y="643.53" font-size="8.3" text-anchor="end" fill="#262626">160</text>
<line x1="40.50" y1="775.20" x2="330.60" y2="775.20" stroke="#8e8e8e" stroke-width="1.1"/>
<line x1="330.60" y1="775.20" x2="330.60" y2="777.20" stroke="#8e8e8e" stroke-width="1.1"/>
<text x="0" y="0" font-size="8.75" fill="#262626" text-anchor="middle" transform="translate(11.60 708.05) rotate(-90)">% of BrdU<tspan font-size="5.6" dy="-3.4">+</tspan><tspan dy="3.4"> cells</tspan></text>
<text x="176.45" y="637.80" font-size="11.6" text-anchor="middle" fill="#262626">U87</text>
<rect x="73.50" y="691.50" width="45.00" height="83.70" fill="url(#dark)" stroke="#2a2a2a" stroke-width="0.85"/>
<rect x="118.50" y="712.80" width="44.50" height="62.40" fill="url(#dark)" stroke="#2a2a2a" stroke-width="0.85"/>
<rect x="207.10" y="667.20" width="45.30" height="108.00" fill="url(#light2)" stroke="#5e5e5e" stroke-width="0.85"/>
<rect x="252.40" y="694.80" width="44.50" height="80.40" fill="url(#light2)" stroke="#5e5e5e" stroke-width="0.85"/>
<line x1="95.90" y1="677.30" x2="95.90" y2="691.50" stroke="#5e5e5e" stroke-width="1.0"/>
<line x1="93.50" y1="677.30" x2="98.30" y2="677.30" stroke="#5e5e5e" stroke-width="1.0"/>
<line x1="93.50" y1="691.50" x2="98.30" y2="691.50" stroke="#5e5e5e" stroke-width="1.0"/>
<line x1="140.50" y1="704.60" x2="140.50" y2="712.80" stroke="#5e5e5e" stroke-width="1.0"/>
<line x1="138.10" y1="704.60" x2="142.90" y2="704.60" stroke="#5e5e5e" stroke-width="1.0"/>
<line x1="138.10" y1="712.80" x2="142.90" y2="712.80" stroke="#5e5e5e" stroke-width="1.0"/>
<line x1="229.60" y1="644.00" x2="229.60" y2="690.40" stroke="#5e5e5e" stroke-width="1.0"/>
<line x1="227.20" y1="644.00" x2="232.00" y2="644.00" stroke="#5e5e5e" stroke-width="1.0"/>
<line x1="227.20" y1="690.40" x2="232.00" y2="690.40" stroke="#5e5e5e" stroke-width="1.0"/>
<line x1="274.50" y1="664.40" x2="274.50" y2="725.50" stroke="#5e5e5e" stroke-width="1.0"/>
<line x1="272.10" y1="664.40" x2="276.90" y2="664.40" stroke="#5e5e5e" stroke-width="1.0"/>
<line x1="272.10" y1="725.50" x2="276.90" y2="725.50" stroke="#5e5e5e" stroke-width="1.0"/>
<text x="98.80" y="783.20" font-size="9.0" text-anchor="end" fill="#262626" transform="rotate(-45 98.80 783.20)">shNeg</text>
<text x="144.80" y="783.20" font-size="9.0" text-anchor="end" fill="#262626" transform="rotate(-45 144.80 783.20)">shNeg</text>
<text x="231.00" y="785.70" font-size="9.0" text-anchor="end" fill="#262626" transform="rotate(-45 231.00 785.70)">shCSF2</text>
<text x="278.00" y="784.80" font-size="9.0" text-anchor="end" fill="#262626" transform="rotate(-45 278.00 784.80)">shCSF2</text>
<text x="349.90" y="631.80" font-size="13.3" text-anchor="start" fill="#111" font-weight="bold">h</text>
<line x1="395.60" y1="639.30" x2="395.60" y2="776.80" stroke="#959595" stroke-width="1.1"/>
<line x1="393.40" y1="774.80" x2="395.60" y2="774.80" stroke="#959595" stroke-width="1.1"/>
<text x="388.10" y="777.68" font-size="8.0" text-anchor="end" fill="#262626">0</text>
<line x1="393.40" y1="759.80" x2="395.60" y2="759.80" stroke="#959595" stroke-width="1.1"/>
<text x="388.10" y="762.68" font-size="8.0" text-anchor="end" fill="#262626">20</text>
<line x1="393.40" y1="744.80" x2="395.60" y2="744.80" stroke="#959595" stroke-width="1.1"/>
<text x="388.10" y="747.68" font-size="8.0" text-anchor="end" fill="#262626">40</text>
<line x1="393.40" y1="729.80" x2="395.60" y2="729.80" stroke="#959595" stroke-width="1.1"/>
<text x="388.10" y="732.68" font-size="8.0" text-anchor="end" fill="#262626">60</text>
<line x1="393.40" y1="714.80" x2="395.60" y2="714.80" stroke="#959595" stroke-width="1.1"/>
<text x="388.10" y="717.68" font-size="8.0" text-anchor="end" fill="#262626">80</text>
<line x1="393.40" y1="699.80" x2="395.60" y2="699.80" stroke="#959595" stroke-width="1.1"/>
<text x="388.10" y="702.68" font-size="8.0" text-anchor="end" fill="#262626">100</text>
<line x1="393.40" y1="684.80" x2="395.60" y2="684.80" stroke="#959595" stroke-width="1.1"/>
<text x="388.10" y="687.68" font-size="8.0" text-anchor="end" fill="#262626">120</text>
<line x1="393.40" y1="669.80" x2="395.60" y2="669.80" stroke="#959595" stroke-width="1.1"/>
<text x="388.10" y="672.68" font-size="8.0" text-anchor="end" fill="#262626">140</text>
<line x1="393.40" y1="654.80" x2="395.60" y2="654.80" stroke="#959595" stroke-width="1.1"/>
<text x="388.10" y="657.68" font-size="8.0" text-anchor="end" fill="#262626">160</text>
<line x1="393.40" y1="639.80" x2="395.60" y2="639.80" stroke="#959595" stroke-width="1.1"/>
<text x="388.10" y="642.68" font-size="8.0" text-anchor="end" fill="#262626">180</text>
<line x1="395.60" y1="774.50" x2="627.00" y2="774.50" stroke="#959595" stroke-width="1.1"/>
<line x1="627.00" y1="774.50" x2="627.00" y2="776.50" stroke="#959595" stroke-width="1.1"/>
<text x="0" y="0" font-size="8.85" fill="#262626" text-anchor="middle" transform="translate(367.00 707.65) rotate(-90)">Cell viability (% of control)</text>
<text x="510.95" y="636.30" font-size="11.6" text-anchor="middle" fill="#262626">U87</text>
<rect x="406.10" y="699.10" width="15.20" height="75.40" fill="url(#dark)" stroke="#2a2a2a" stroke-width="0.85"/>
<rect x="421.30" y="712.10" width="14.70" height="62.40" fill="url(#dark)" stroke="#2a2a2a" stroke-width="0.85"/>
<rect x="436.00" y="686.50" width="14.90" height="88.00" fill="url(#light)" stroke="#5e5e5e" stroke-width="0.85"/>
<rect x="450.90" y="718.80" width="15.50" height="55.70" fill="url(#light)" stroke="#5e5e5e" stroke-width="0.85"/>
<line x1="413.70" y1="686.10" x2="413.70" y2="699.10" stroke="#555555" stroke-width="1.0"/>
<line x1="412.00" y1="686.10" x2="415.40" y2="686.10" stroke="#555555" stroke-width="1.0"/>
<line x1="412.00" y1="699.10" x2="415.40" y2="699.10" stroke="#555555" stroke-width="1.0"/>
<line x1="428.65" y1="707.50" x2="428.65" y2="712.10" stroke="#555555" stroke-width="1.0"/>
<line x1="426.95" y1="707.50" x2="430.35" y2="707.50" stroke="#555555" stroke-width="1.0"/>
<line x1="426.95" y1="712.10" x2="430.35" y2="712.10" stroke="#555555" stroke-width="1.0"/>
<line x1="443.45" y1="682.20" x2="443.45" y2="691.30" stroke="#555555" stroke-width="1.0"/>
<line x1="441.75" y1="682.20" x2="445.15" y2="682.20" stroke="#555555" stroke-width="1.0"/>
<line x1="441.75" y1="691.30" x2="445.15" y2="691.30" stroke="#555555" stroke-width="1.0"/>
<line x1="458.65" y1="701.20" x2="458.65" y2="735.70" stroke="#555555" stroke-width="1.0"/>
<line x1="456.95" y1="701.20" x2="460.35" y2="701.20" stroke="#555555" stroke-width="1.0"/>
<line x1="456.95" y1="735.70" x2="460.35" y2="735.70" stroke="#555555" stroke-width="1.0"/>
<rect x="481.10" y="699.50" width="15.10" height="75.00" fill="url(#dark)" stroke="#2a2a2a" stroke-width="0.85"/>
<rect x="496.20" y="703.60" width="14.30" height="70.90" fill="url(#dark)" stroke="#2a2a2a" stroke-width="0.85"/>
<rect x="510.50" y="650.60" width="15.10" height="123.90" fill="url(#light)" stroke="#5e5e5e" stroke-width="0.85"/>
<rect x="525.60" y="695.80" width="15.10" height="78.70" fill="url(#light)" stroke="#5e5e5e" stroke-width="0.85"/>
<line x1="488.65" y1="679.50" x2="488.65" y2="699.50" stroke="#555555" stroke-width="1.0"/>
<line x1="486.95" y1="679.50" x2="490.35" y2="679.50" stroke="#555555" stroke-width="1.0"/>
<line x1="486.95" y1="699.50" x2="490.35" y2="699.50" stroke="#555555" stroke-width="1.0"/>
<line x1="503.35" y1="689.70" x2="503.35" y2="703.60" stroke="#555555" stroke-width="1.0"/>
<line x1="501.65" y1="689.70" x2="505.05" y2="689.70" stroke="#555555" stroke-width="1.0"/>
<line x1="501.65" y1="703.60" x2="505.05" y2="703.60" stroke="#555555" stroke-width="1.0"/>
<line x1="518.05" y1="645.90" x2="518.05" y2="655.50" stroke="#555555" stroke-width="1.0"/>
<line x1="516.35" y1="645.90" x2="519.75" y2="645.90" stroke="#555555" stroke-width="1.0"/>
<line x1="516.35" y1="655.50" x2="519.75" y2="655.50" stroke="#555555" stroke-width="1.0"/>
<line x1="533.15" y1="669.20" x2="533.15" y2="723.60" stroke="#555555" stroke-width="1.0"/>
<line x1="531.45" y1="669.20" x2="534.85" y2="669.20" stroke="#555555" stroke-width="1.0"/>
<line x1="531.45" y1="723.60" x2="534.85" y2="723.60" stroke="#555555" stroke-width="1.0"/>
<rect x="555.00" y="699.50" width="15.40" height="75.00" fill="url(#dark)" stroke="#2a2a2a" stroke-width="0.85"/>
<rect x="570.40" y="693.40" width="15.00" height="81.10" fill="url(#dark)" stroke="#2a2a2a" stroke-width="0.85"/>
<rect x="585.40" y="663.30" width="15.30" height="111.20" fill="url(#light)" stroke="#5e5e5e" stroke-width="0.85"/>
<rect x="600.70" y="692.40" width="15.20" height="82.10" fill="url(#light)" stroke="#5e5e5e" stroke-width="0.85"/>
<line x1="562.70" y1="689.70" x2="562.70" y2="699.50" stroke="#555555" stroke-width="1.0"/>
<line x1="561.00" y1="689.70" x2="564.40" y2="689.70" stroke="#555555" stroke-width="1.0"/>
<line x1="561.00" y1="699.50" x2="564.40" y2="699.50" stroke="#555555" stroke-width="1.0"/>
<line x1="577.90" y1="686.40" x2="577.90" y2="693.40" stroke="#555555" stroke-width="1.0"/>
<line x1="576.20" y1="686.40" x2="579.60" y2="686.40" stroke="#555555" stroke-width="1.0"/>
<line x1="576.20" y1="693.40" x2="579.60" y2="693.40" stroke="#555555" stroke-width="1.0"/>
<line x1="593.05" y1="660.10" x2="593.05" y2="666.60" stroke="#555555" stroke-width="1.0"/>
<line x1="591.35" y1="660.10" x2="594.75" y2="660.10" stroke="#555555" stroke-width="1.0"/>
<line x1="591.35" y1="666.60" x2="594.75" y2="666.60" stroke="#555555" stroke-width="1.0"/>
<line x1="608.30" y1="673.20" x2="608.30" y2="711.20" stroke="#555555" stroke-width="1.0"/>
<line x1="606.60" y1="673.20" x2="610.00" y2="673.20" stroke="#555555" stroke-width="1.0"/>
<line x1="606.60" y1="711.20" x2="610.00" y2="711.20" stroke="#555555" stroke-width="1.0"/>
<text x="437.50" y="785.70" font-size="8.7" text-anchor="middle" fill="#262626">24</text>
<text x="511.10" y="785.70" font-size="8.7" text-anchor="middle" fill="#262626">48</text>
<text x="575.80" y="785.70" font-size="8.7" text-anchor="start" fill="#262626">72 h</text>
<rect x="642.40" y="647.40" width="4.80" height="4.80" fill="url(#dark)" stroke="#222" stroke-width="0.6"/>
<rect x="642.40" y="659.50" width="4.80" height="4.80" fill="url(#light)" stroke="#666" stroke-width="0.7"/>
<text x="653.40" y="651.90" font-size="8.9" text-anchor="start" fill="#262626">shNeg</text>
<text x="653.40" y="664.50" font-size="8.9" text-anchor="start" fill="#262626">shCSF2</text>
</svg>
</body></html>
